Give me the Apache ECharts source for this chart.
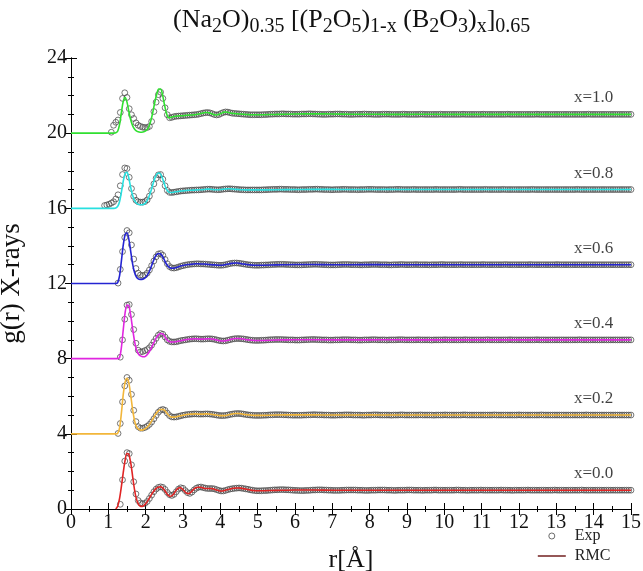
<!DOCTYPE html>
<html>
<head>
<meta charset="utf-8">
<title>g(r) X-rays</title>
<script src="https://cdn.jsdelivr.net/npm/echarts@6/dist/echarts.min.js"></script>
<style>
  html, body { margin: 0; padding: 0; background: #fff; }
  #chart { width: 643px; height: 571px; }
</style>
</head>
<body>
<div id="chart"></div>
<script>
// Compositions (Na2O)0.35[(P2O5)1-x(B2O3)x]0.65, stacked with a vertical shift
const compositions = ['x=0.0', 'x=0.2', 'x=0.4', 'x=0.6', 'x=0.8', 'x=1.0'];
const shifts = [0, 4, 8, 12, 16, 20];

// Experimental g(r): uniform r grid, first r per composition
const EXP_STEP = 0.06;
const expStart = [1.32, 1.26, 1.32, 1.26, 0.90, 1.08];

const exp_x00 = [
  0.25,1.55,2.55,3.00,2.95,2.35,1.45,0.80,0.45,0.32,
  0.28,0.30,0.40,0.56,0.74,0.92,1.06,1.15,1.18,1.15,
  1.04,0.88,0.76,0.72,0.78,0.92,1.06,1.13,1.10,0.98,
  0.87,0.83,0.90,1.02,1.11,1.16,1.17,1.14,1.11,1.09,
  1.09,1.09,1.07,1.03,0.99,0.96,0.96,0.99,1.03,1.06,
  1.08,1.10,1.11,1.12,1.11,1.09,1.07,1.05,1.02,1.00,
  0.98,0.97,
  0.97,0.97,0.98,0.98,0.99,1.00,1.01,1.02,1.02,1.03,1.03,1.03,1.02,1.02,1.01,1.00,0.99,
  0.99,0.98,0.98,0.98,0.99,0.99,1.00,1.01,1.01,1.02,1.02,1.02,1.01,1.01,1.00,1.00,0.99,
  0.99,0.99,0.99,1.00,1.00,1.01,1.01,1.01,1.01,1.01,1.00,1.00,1.00,0.99,0.99,0.99,1.00,
  1.00,1.00,1.01,1.01,1.01,1.01,1.00,1.00,1.00,0.99,0.99,1.00,1.00,1.00,1.00,1.01,1.01,
  1.01,1.00,1.00,1.00,1.00,0.99,1.00,1.00,1.00,1.00,1.01,1.01,1.00,1.00,1.00,1.00,1.00,
  1.00,1.00,1.00,1.01,1.01,1.00,1.00,1.00,0.99,1.00,1.00,1.00,1.00,1.00,1.01,1.00,1.00,
  1.00,1.00,1.00,1.00,1.00,1.00,1.01,1.00,1.00,1.00,1.00,0.99,1.00,1.00,1.00,1.00,1.00,
  1.00,1.01,1.00,1.00,1.00,1.00,1.00,1.00,1.00,1.00,1.00,1.00,1.00,1.01,1.00,1.00,
  1.00,1.00,1.00,1.00,1.00,1.00,1.00,1.00,1.00,1.01,1.00,1.00,1.00,1.00,1.00,1.00,
  1.00,1.00,1.00,1.00,1.00,1.00,1.00,1.00,1.00,1.00,1.00,1.00,1.00,1.00,1.00,1.00
];
const exp_x02 = [
  0.02,0.55,1.70,2.55,3.00,2.85,2.10,1.25,0.65,0.38,
  0.30,0.30,0.34,0.40,0.50,0.63,0.80,0.98,1.15,1.26,
  1.30,1.25,1.10,0.97,0.90,0.89,0.90,0.93,0.96,0.99,
  1.01,1.03,1.04,1.05,1.06,1.06,1.05,1.05,1.05,1.06,
  1.06,1.05,1.04,1.02,1.00,0.98,0.97,0.97,0.98,1.00,
  1.03,1.05,1.07,1.08,1.08,1.07,1.05,1.03,1.01,1.00,
  0.99,0.98,0.98,
  0.98,0.98,0.99,0.99,1.00,1.01,1.01,1.02,1.02,1.02,1.02,1.01,1.01,1.00,1.00,0.99,0.99,
  0.99,0.99,0.99,1.00,1.00,1.01,1.01,1.02,1.02,1.01,1.01,1.01,1.00,1.00,1.00,0.99,0.99,
  0.99,1.00,1.00,1.00,1.01,1.01,1.01,1.01,1.00,1.00,1.00,1.00,0.99,0.99,1.00,1.00,1.00,
  1.01,1.01,1.01,1.00,1.00,1.00,1.00,1.00,0.99,1.00,1.00,1.00,1.01,1.01,1.00,1.00,1.00,
  1.00,1.00,1.00,1.00,1.01,1.00,1.00,1.00,1.00,1.00,0.99,1.00,1.00,1.00,1.00,1.01,1.00,
  1.00,1.00,1.00,1.00,1.00,1.00,1.01,1.01,1.00,1.00,1.00,1.00,1.00,1.00,1.00,1.00,1.00,
  1.00,1.00,1.00,1.01,1.00,1.00,1.00,1.00,1.00,1.00,1.00,1.00,1.00,1.00,1.01,1.00,1.00,
  1.00,1.00,1.00,1.00,1.00,1.00,1.00,1.01,1.00,1.00,1.00,1.00,1.00,1.00,1.00,1.00,
  1.00,1.00,1.00,1.00,1.00,1.00,1.00,1.00,1.00,1.00,1.00,1.01,1.00,1.00,1.00,1.00,
  1.00,1.00,1.00,1.00,1.00,1.00,1.00,1.00,1.00,1.00,1.00,1.00,1.00,1.00,1.00,1.00
];
const exp_x04 = [
  0.08,1.00,2.10,2.85,2.88,2.35,1.55,0.82,0.45,0.36,
  0.38,0.43,0.48,0.58,0.72,0.90,1.08,1.25,1.34,1.30,
  1.15,1.00,0.92,0.89,0.89,0.90,0.93,0.96,0.98,1.00,
  1.02,1.04,1.05,1.06,1.06,1.05,1.04,1.04,1.05,1.06,
  1.06,1.05,1.03,1.00,0.97,0.95,0.94,0.95,0.98,1.01,
  1.04,1.06,1.07,1.07,1.06,1.05,1.03,1.01,0.99,0.98,
  0.97,0.97,
  0.97,0.98,0.98,0.99,1.00,1.01,1.01,1.02,1.02,1.02,1.02,1.01,1.01,1.00,1.00,1.00,0.99,
  0.99,0.99,1.00,1.00,1.01,1.01,1.02,1.02,1.02,1.01,1.01,1.00,1.00,1.00,0.99,0.99,0.99,
  1.00,1.00,1.00,1.01,1.01,1.01,1.01,1.00,1.00,1.00,0.99,0.99,0.99,1.00,1.00,1.00,1.01,
  1.01,1.01,1.00,1.00,1.00,1.00,0.99,1.00,1.00,1.00,1.00,1.01,1.01,1.01,1.00,1.00,1.00,
  1.00,1.00,1.00,1.01,1.00,1.00,1.00,1.00,1.00,0.99,1.00,1.00,1.00,1.00,1.00,1.01,1.00,
  1.00,1.00,1.00,1.00,1.00,1.00,1.00,1.01,1.00,1.00,1.00,1.00,1.00,1.00,1.00,1.00,1.00,
  1.01,1.00,1.00,1.00,1.00,1.00,1.00,1.00,1.00,1.00,1.01,1.00,1.00,1.00,1.00,1.00,1.00,
  1.00,1.00,1.00,1.00,1.00,1.01,1.00,1.00,1.00,1.00,1.00,1.00,1.00,1.00,1.00,1.00,
  1.00,1.00,1.00,1.00,1.00,1.00,1.00,1.00,1.01,1.00,1.00,1.00,1.00,1.00,1.00,1.00,
  1.00,1.00,1.00,1.00,1.00,1.00,1.00,1.00,1.00,1.00,1.00,1.00,1.00,1.00,1.00,1.00
];
const exp_x06 = [
  0.02,0.75,1.70,2.45,2.82,2.70,2.05,1.30,0.80,0.55,
  0.45,0.42,0.45,0.55,0.72,0.95,1.20,1.42,1.57,1.60,
  1.50,1.28,1.05,0.90,0.83,0.82,0.84,0.88,0.92,0.95,
  0.98,1.00,1.02,1.03,1.04,1.05,1.05,1.04,1.04,1.03,
  1.02,1.01,1.00,0.99,0.98,0.97,0.97,0.98,1.00,1.03,
  1.06,1.08,1.09,1.09,1.08,1.06,1.04,1.02,1.00,0.99,
  0.98,0.97,0.97,
  0.97,0.98,0.98,0.99,0.99,1.00,1.01,1.01,1.02,1.02,1.02,1.02,1.01,1.01,1.00,1.00,0.99,
  0.99,0.99,0.99,1.00,1.00,1.01,1.01,1.02,1.02,1.02,1.01,1.01,1.00,1.00,0.99,0.99,0.99,
  0.99,1.00,1.00,1.01,1.01,1.01,1.01,1.00,1.00,1.00,1.00,0.99,0.99,1.00,1.00,1.00,1.01,
  1.01,1.01,1.01,1.00,1.00,1.00,1.00,0.99,0.99,1.00,1.00,1.00,1.01,1.01,1.00,1.00,1.00,
  1.00,1.00,1.01,1.00,1.00,1.00,1.00,1.00,0.99,1.00,1.00,1.00,1.00,1.01,1.01,1.00,1.00,
  1.00,1.00,1.00,1.00,1.00,1.01,1.00,1.00,1.00,1.00,1.00,1.00,1.00,1.00,1.00,1.01,1.00,
  1.00,1.00,1.00,1.00,1.00,1.00,1.00,1.00,1.01,1.00,1.00,1.00,1.00,1.00,1.00,1.00,1.00,
  1.00,1.00,1.01,1.00,1.00,1.00,1.00,1.00,1.00,1.00,1.00,1.00,1.00,1.00,1.01,1.00,
  1.00,1.00,1.00,1.00,1.00,1.00,1.00,1.00,1.00,1.00,1.00,1.00,1.00,1.00,1.00,1.00,
  1.00,1.00,1.00,1.00,1.00,1.00,1.00,1.00,1.00,1.00,1.00,1.00,1.00,1.00,1.00,1.00
];
const exp_x08 = [
  0.15,0.18,0.22,0.28,0.35,0.50,0.72,1.20,1.80,2.15,
  2.12,1.65,1.05,0.64,0.43,0.35,0.33,0.33,0.36,0.45,
  0.65,0.95,1.30,1.60,1.78,1.80,1.55,1.20,0.95,0.85,
  0.84,0.86,0.88,0.90,0.92,0.93,0.94,0.95,0.96,0.97,
  0.97,0.98,0.98,0.99,1.00,1.01,1.02,1.02,1.01,1.00,
  0.99,0.99,1.00,1.02,1.03,1.04,1.04,1.03,1.02,1.01,
  1.00,0.99,0.99,0.98,0.98,0.98,0.98,0.98,0.98,
  0.98,0.98,0.99,0.99,1.00,1.00,1.01,1.01,1.01,1.02,1.02,1.01,1.01,1.01,1.00,1.00,1.00,
  0.99,0.99,1.00,1.00,1.00,1.01,1.01,1.01,1.02,1.02,1.01,1.01,1.00,1.00,1.00,0.99,0.99,
  1.00,1.00,1.00,1.01,1.01,1.01,1.00,1.00,1.00,1.00,0.99,1.00,1.00,1.00,1.01,1.01,1.01,
  1.01,1.00,1.00,1.00,1.00,1.00,0.99,1.00,1.00,1.00,1.01,1.01,1.01,1.00,1.00,1.00,1.00,
  1.00,1.01,1.00,1.00,1.00,1.00,1.00,1.00,1.00,1.00,1.00,1.01,1.00,1.00,1.00,1.00,1.00,
  1.00,1.00,1.00,1.00,1.01,1.01,1.00,1.00,1.00,1.00,1.00,1.00,1.00,1.00,1.00,1.00,1.01,
  1.00,1.00,1.00,1.00,1.00,1.00,1.00,1.01,1.00,1.00,1.00,1.00,1.00,1.00,1.00,1.00,1.00,
  1.00,1.00,1.00,1.01,1.00,1.00,1.00,1.00,1.00,1.00,1.00,1.00,1.00,1.00,1.00,1.00,
  1.00,1.00,1.00,1.00,1.00,1.00,1.00,1.01,1.00,1.00,1.00,1.00,1.00,1.00,1.00,1.00,
  1.00,1.00,1.00,1.00,1.00,1.00,1.00,1.00,1.00,1.00,1.00,1.00,1.00,1.00,1.00,1.00
];
const exp_x10 = [
  0.05,0.42,0.58,0.70,1.10,1.85,2.15,1.90,1.30,0.98,
  0.78,0.55,0.42,0.36,0.32,0.30,0.30,0.36,0.62,1.15,
  1.65,2.05,2.18,1.85,1.35,0.98,0.82,0.84,0.88,0.90,
  0.91,0.92,0.93,0.94,0.95,0.96,0.97,0.98,0.99,1.01,
  1.04,1.07,1.09,1.10,1.08,1.04,0.99,0.97,0.99,1.05,
  1.10,1.13,1.12,1.09,1.06,1.05,1.04,1.03,1.02,1.01,
  1.00,0.99,0.98,0.98,0.98,0.98,
  0.98,0.98,0.99,0.99,1.00,1.01,1.01,1.02,1.02,1.02,1.03,1.03,1.02,1.02,1.02,1.01,1.01,
  1.01,1.01,1.02,1.02,1.02,1.03,1.03,1.02,1.02,1.01,1.01,1.00,1.00,1.00,1.01,1.01,1.01,
  1.02,1.02,1.02,1.01,1.01,1.01,1.00,1.00,1.00,1.01,1.01,1.01,1.01,1.02,1.01,1.01,1.01,
  1.00,1.00,1.00,1.00,1.01,1.01,1.01,1.01,1.00,1.00,1.00,1.00,1.00,1.01,1.01,1.00,1.00,
  1.00,1.00,1.00,1.00,1.01,1.01,1.00,1.00,1.00,1.00,1.00,1.00,1.00,1.01,1.00,1.00,1.00,
  1.00,1.00,1.00,1.00,1.00,1.00,1.01,1.00,1.00,1.00,1.00,1.00,1.00,1.00,1.00,1.01,1.00,
  1.00,1.00,1.00,1.00,1.00,1.00,1.00,1.00,1.00,1.01,1.00,1.00,1.00,1.00,1.00,1.00,1.00,
  1.00,1.00,1.00,1.00,1.00,1.01,1.00,1.00,1.00,1.00,1.00,1.00,1.00,1.00,1.00,1.00,
  1.00,1.00,1.00,1.00,1.00,1.00,1.00,1.00,1.00,1.00,1.00,1.00,1.01,1.00,1.00,1.00,
  1.00,1.00,1.00,1.00,1.00,1.00,1.00,1.00,1.00,1.00,1.00,1.00,1.00,1.00,1.00,1.00
];

// RMC model g(r): fine grid up to 5 Å, then a coarse grid to 15 Å
const RMC_STEP = 0.05;
const RMC_TAIL_START = 5.5;
const RMC_TAIL_STEP = 0.5;
const rmcStart = [1.20, 0.00, 0.00, 0.00, 0.00, 0.00];

const rmc_x00 = [
  0.00,0.15,0.55,1.20,1.95,2.60,2.95,2.90,2.45,1.75,
  1.05,0.55,0.28,0.16,0.14,0.18,0.28,0.42,0.58,0.75,
  0.90,1.03,1.12,1.17,1.18,1.13,1.01,0.86,0.74,0.68,
  0.70,0.80,0.95,1.07,1.13,1.12,1.03,0.92,0.84,0.82,
  0.87,0.97,1.07,1.13,1.16,1.16,1.14,1.11,1.09,1.09,
  1.09,1.09,1.08,1.05,1.01,0.98,0.96,0.96,0.98,1.01,
  1.04,1.06,1.08,1.10,1.11,1.12,1.12,1.11,1.09,1.07,
  1.05,1.03,1.01,0.99,0.98,0.97,0.97
];
const rmc_x02 = [
  0,0,0,0,0,0,0,0,0,0,0,0,0,0,0,0,0,0,0,0,
  0.00,0.00,0.00,0.00,0.00,0.03,0.30,1.10,2.10,2.75,
  2.95,2.70,2.05,1.30,0.72,0.40,0.26,0.21,0.20,0.23,
  0.29,0.38,0.50,0.65,0.82,0.99,1.14,1.24,1.29,1.30,
  1.26,1.15,1.02,0.93,0.89,0.89,0.90,0.92,0.95,0.97,
  0.99,1.01,1.03,1.04,1.05,1.05,1.06,1.06,1.05,1.05,
  1.05,1.05,1.06,1.06,1.05,1.04,1.03,1.01,1.00,0.98,
  0.97,0.97,0.97,0.98,1.00,1.03,1.05,1.07,1.08,1.08,
  1.08,1.07,1.05,1.03,1.02,1.01,1.00,0.99,0.98,0.98,
  0.98
];
const rmc_x04 = [
  0,0,0,0,0,0,0,0,0,0,0,0,0,0,0,0,0,0,0,0,
  0.00,0.00,0.00,0.00,0.00,0.01,0.05,0.60,1.55,2.45,
  2.85,2.80,2.30,1.60,0.95,0.50,0.27,0.16,0.11,0.10,
  0.14,0.24,0.38,0.56,0.77,0.98,1.16,1.28,1.34,1.33,
  1.22,1.06,0.95,0.90,0.89,0.89,0.90,0.92,0.94,0.96,
  0.98,1.00,1.02,1.03,1.04,1.05,1.06,1.06,1.05,1.04,
  1.04,1.04,1.05,1.06,1.06,1.05,1.04,1.02,1.00,0.97,
  0.95,0.94,0.94,0.96,0.98,1.01,1.04,1.06,1.07,1.07,
  1.07,1.06,1.05,1.03,1.01,1.00,0.99,0.98,0.97,0.97,
  0.97
];
const rmc_x06 = [
  0,0,0,0,0,0,0,0,0,0,0,0,0,0,0,0,0,0,0,0,
  0.00,0.00,0.00,0.00,0.00,0.05,0.40,1.20,2.05,2.60,
  2.70,2.35,1.70,1.05,0.60,0.35,0.25,0.22,0.22,0.25,
  0.33,0.46,0.65,0.90,1.17,1.40,1.55,1.60,1.57,1.45,
  1.26,1.05,0.92,0.84,0.81,0.82,0.84,0.87,0.91,0.94,
  0.96,0.98,1.00,1.01,1.02,1.03,1.04,1.05,1.05,1.04,
  1.04,1.04,1.03,1.02,1.01,1.00,0.99,0.99,0.98,0.97,
  0.97,0.97,0.99,1.01,1.03,1.05,1.07,1.08,1.09,1.09,
  1.08,1.06,1.04,1.03,1.01,1.00,0.99,0.98,0.97,0.97,
  0.97
];
const rmc_x08 = [
  0,0,0,0,0,0,0,0,0,0,0,0,0,0,0,0,0,0,0,0,
  0.00,0.00,0.00,0.00,0.02,0.10,0.35,0.85,1.45,1.85,
  1.92,1.60,1.10,0.70,0.42,0.28,0.21,0.19,0.19,0.22,
  0.30,0.45,0.68,0.98,1.32,1.62,1.82,1.88,1.82,1.60,
  1.30,1.05,0.90,0.84,0.84,0.86,0.88,0.89,0.91,0.92,
  0.93,0.94,0.95,0.96,0.96,0.97,0.97,0.98,0.98,0.99,
  0.99,1.00,1.01,1.02,1.02,1.01,1.00,0.99,0.99,0.99,
  1.00,1.01,1.02,1.03,1.04,1.04,1.03,1.02,1.01,1.01,
  1.00,0.99,0.99,0.98,0.98,0.98,0.98,0.98,0.98,0.98,
  0.98
];
const rmc_x10 = [
  0,0,0,0,0,0,0,0,0,0,0,0,0,0,0,0,0,0,0,0,
  0.00,0.00,0.00,0.00,0.02,0.10,0.45,1.10,1.70,1.90,
  1.65,1.15,0.70,0.40,0.22,0.12,0.07,0.05,0.05,0.07,
  0.12,0.22,0.42,0.75,1.20,1.70,2.10,2.35,2.35,2.05,
  1.55,1.10,0.85,0.82,0.86,0.89,0.90,0.91,0.92,0.93,
  0.93,0.94,0.95,0.96,0.97,0.97,0.98,0.99,1.01,1.03,
  1.06,1.08,1.10,1.10,1.08,1.05,1.01,0.98,0.97,0.99,
  1.03,1.08,1.12,1.13,1.11,1.09,1.06,1.05,1.04,1.03,
  1.02,1.02,1.01,1.00,0.99,0.99,0.98,0.98,0.98,0.98,
  0.98
];

// Coarse RMC values from 5.5 Å to 15 Å
const rmcTail_x00 = [0.99,1.01,1.01,1.00,1.00,1.00,1.00,1.00,1.00,1.00,1.00,1.00,1.00,1.00,1.00,1.00,1.00,1.00,1.00,1.00];
const rmcTail_x02 = [1.00,1.01,1.01,1.00,1.00,1.01,1.00,1.00,1.00,1.00,1.00,1.00,1.00,1.00,1.00,1.00,1.00,1.00,1.00,1.00];
const rmcTail_x04 = [0.99,1.01,1.01,1.00,1.00,1.00,1.01,1.00,1.00,1.00,1.00,1.00,1.00,1.00,1.00,1.00,1.00,1.00,1.00,1.00];
const rmcTail_x06 = [0.99,1.01,1.01,1.00,1.00,1.01,1.00,1.00,1.00,1.00,1.00,1.00,1.00,1.00,1.00,1.00,1.00,1.00,1.00,1.00];
const rmcTail_x08 = [0.99,1.00,1.01,1.01,1.00,1.00,1.01,1.00,1.00,1.00,1.00,1.00,1.00,1.00,1.00,1.00,1.00,1.00,1.00,1.00];
const rmcTail_x10 = [1.00,1.02,1.03,1.02,1.01,1.01,1.00,1.00,1.01,1.00,1.00,1.00,1.00,1.00,1.00,1.00,1.00,1.00,1.00,1.00];

// Axis ticks
const xTicks = { min: 0, max: 15, step: 1 };
const yTicks = { min: 0, max: 24, step: 4 };

const expSets = [exp_x00, exp_x02, exp_x04, exp_x06, exp_x08, exp_x10];
const rmcSets = [rmc_x00, rmc_x02, rmc_x04, rmc_x06, rmc_x08, rmc_x10];
const rmcTails = [rmcTail_x00, rmcTail_x02, rmcTail_x04, rmcTail_x06, rmcTail_x08, rmcTail_x10];

const lineColors = ['#e02424', '#f2b63a', '#e026e0', '#2424d2', '#28e0e0', '#30e030'];
const SERIF = '"Liberation Serif", "Times New Roman", serif';
const R_MAX = 15.0001;

function expPoints(i) {
  const pts = [];
  expSets[i].forEach((g, k) => {
    const r = +(expStart[i] + k * EXP_STEP).toFixed(3);
    if (r <= R_MAX) pts.push([r, g + shifts[i]]);
  });
  return pts;
}
function rmcPoints(i) {
  const pts = rmcSets[i].map((g, k) => [+(rmcStart[i] + k * RMC_STEP).toFixed(3), g + shifts[i]]);
  rmcTails[i].forEach((g, k) => {
    pts.push([+(RMC_TAIL_START + k * RMC_TAIL_STEP).toFixed(3), g + shifts[i]]);
  });
  return pts;
}

// Composition tags sit above each plateau near the right edge
const TAG_R = 14.0;
const TAG_DY = 1.87;

const series = [];
compositions.forEach((name, i) => {
  series.push({
    name: 'Exp', type: 'scatter', z: 2,
    symbol: 'circle', symbolSize: 5.8,
    itemStyle: { color: 'rgba(255,255,255,0)', borderColor: '#4a4a4a', borderWidth: 0.95 },
    data: expPoints(i)
  });
});
compositions.forEach((name, i) => {
  series.push({
    name: 'RMC', type: 'line', z: 3,
    symbol: 'none', smooth: 0.3,
    lineStyle: { color: lineColors[i], width: 1.6 },
    itemStyle: { color: lineColors[i] },
    data: rmcPoints(i)
  });
});
series.push({
  name: 'tags', type: 'scatter', z: 4, symbolSize: 0, silent: true,
  data: compositions.map((name, i) => [TAG_R, shifts[i] + TAG_DY, name]),
  label: {
    show: true, position: 'inside', formatter: p => p.data[2],
    fontFamily: SERIF, fontSize: 17, color: '#111'
  }
});

const axisCommon = {
  axisLine: { lineStyle: { color: '#000', width: 1 } },
  axisTick: { inside: true, length: 6, lineStyle: { color: '#000' } },
  minorTick: { show: true, length: 3, lineStyle: { color: '#000' } },
  splitLine: { show: false }
};

const option = {
  animation: false,
  backgroundColor: '#fff',
  title: {
    text: '(Na{s|2}O){s|0.35} [(P{s|2}O{s|5}){s|1-x} (B{s|2}O{s|3}){s|x}]{s|0.65}',
    left: 173, top: 3, padding: 0,
    textStyle: {
      fontFamily: SERIF, fontSize: 26, fontWeight: 'normal', color: '#111', lineHeight: 34,
      rich: { s: { fontFamily: SERIF, fontSize: 20, color: '#111', verticalAlign: 'bottom', lineHeight: 20 } }
    }
  },
  legend: {
    orient: 'vertical', left: 537, top: 528, padding: 0,
    itemWidth: 28, itemHeight: 6, itemGap: 4,
    textStyle: { fontFamily: SERIF, fontSize: 16, color: '#222', padding: [0, 0, 0, 4] },
    data: [
      { name: 'Exp', icon: 'circle', itemStyle: { color: 'rgba(255,255,255,0)', borderColor: '#4a4a4a', borderWidth: 1 } },
      { name: 'RMC', itemStyle: { color: 'rgba(0,0,0,0)', borderWidth: 0, borderColor: 'rgba(0,0,0,0)' },
        lineStyle: { color: '#7a2c2c', width: 1.6 } }
    ]
  },
  grid: { left: 71, right: 12, top: 58, bottom: 62, containLabel: false, outerBoundsMode: 'none' },
  xAxis: [
    Object.assign({}, axisCommon, {
      type: 'value', position: 'bottom',
      min: xTicks.min, max: xTicks.max, interval: xTicks.step,
      minorTick: Object.assign({}, axisCommon.minorTick, { splitNumber: 2 }),
      axisLabel: { fontFamily: SERIF, fontSize: 20, color: '#111', margin: 4 },
      name: 'r[Å]', nameLocation: 'middle', nameGap: 38,
      nameTextStyle: { fontFamily: SERIF, fontSize: 26, color: '#111' }
    }),
    Object.assign({}, axisCommon, {
      type: 'value', position: 'top',
      min: xTicks.min, max: xTicks.max, interval: xTicks.step,
      minorTick: Object.assign({}, axisCommon.minorTick, { splitNumber: 2 }),
      axisLabel: { show: false }
    })
  ],
  yAxis: [
    Object.assign({}, axisCommon, {
      type: 'value', position: 'left',
      min: yTicks.min, max: yTicks.max, interval: yTicks.step,
      minorTick: Object.assign({}, axisCommon.minorTick, { splitNumber: 4 }),
      axisLabel: { fontFamily: SERIF, fontSize: 20, color: '#111', margin: 4 },
      name: 'g(r) X-rays', nameLocation: 'middle', nameGap: 46,
      nameTextStyle: { fontFamily: SERIF, fontSize: 27, color: '#111' }
    }),
    Object.assign({}, axisCommon, {
      type: 'value', position: 'right',
      min: yTicks.min, max: yTicks.max, interval: yTicks.step,
      minorTick: Object.assign({}, axisCommon.minorTick, { splitNumber: 4 }),
      axisLabel: { show: false }
    })
  ],
  series: series
};

const chart = echarts.init(document.getElementById('chart'), null, { renderer: 'canvas' });
chart.setOption(option);
</script>
</body>
</html>
